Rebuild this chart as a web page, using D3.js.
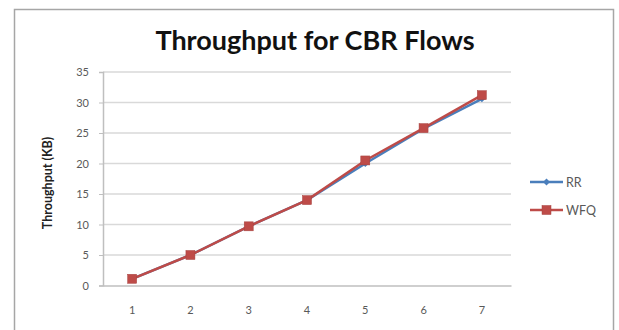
<!DOCTYPE html>
<html>
<head>
<meta charset="utf-8">
<script src="https://cdn.jsdelivr.net/npm/d3@7"></script>
<style>
  html, body { margin: 0; padding: 0; background: #fff; }
  svg { display: block; }
</style>
</head>
<body>
<svg id="chart" width="619" height="330"></svg>
<script>
// Chart data
const categories = ["1", "2", "3", "4", "5", "6", "7"];
const rrValues  = [1.1, 5.0, 9.7, 14.0, 20.0, 25.7, 30.6];
const wfqValues = [1.1, 5.0, 9.7, 14.0, 20.5, 25.8, 31.2];
const yTicks = [0, 5, 10, 15, 20, 25, 30, 35];
const seriesNames = ["RR", "WFQ"];

const series = [
  { name: seriesNames[0], values: rrValues,  color: "#4a7ebb", marker: "diamond" },
  { name: seriesNames[1], values: wfqValues, color: "#be4b48", marker: "square" }
];

const svg = d3.select("#chart");
const font = "Lato, 'Open Sans', sans-serif";

// Chart frame
svg.append("rect")
  .attr("x", 14.5).attr("y", 9.5)
  .attr("width", 599).attr("height", 330)
  .attr("fill", "#fff").attr("stroke", "#a6a6a6").attr("stroke-width", 1.5);

const plot = { left: 103, right: 511, top: 72, bottom: 285.5 };

const x = d3.scaleBand().domain(categories).range([plot.left, plot.right]);
const y = d3.scaleLinear().domain([0, 35]).range([plot.bottom, plot.top]);

// Horizontal gridlines
svg.append("g")
  .selectAll("line")
  .data(yTicks.filter(d => d > 0))
  .join("line")
  .attr("x1", plot.left).attr("x2", plot.right)
  .attr("y1", d => y(d)).attr("y2", d => y(d))
  .attr("stroke", "#d9d9d9").attr("stroke-width", 1.5);

// Y axis
const yAxis = svg.append("g")
  .attr("transform", `translate(${plot.left},0)`)
  .call(d3.axisLeft(y).tickValues(yTicks).tickSize(4).tickPadding(10));
yAxis.select(".domain").attr("stroke", "#bfbfbf").attr("stroke-width", 1.5);
yAxis.selectAll(".tick line").attr("stroke", "#bfbfbf");
yAxis.selectAll(".tick text")
  .attr("font-family", font).attr("font-size", 11).attr("fill", "#595959");

// X axis
const xAxis = svg.append("g")
  .attr("transform", `translate(0,${plot.bottom})`)
  .call(d3.axisBottom(x).tickSize(0).tickPadding(21));
xAxis.select(".domain").attr("stroke", "#bfbfbf").attr("stroke-width", 1.5);
xAxis.selectAll(".tick text")
  .attr("font-family", font).attr("font-size", 11).attr("fill", "#595959");

// Title
svg.append("text")
  .attr("x", 315).attr("y", 49.5)
  .attr("text-anchor", "middle")
  .attr("font-family", font).attr("font-weight", "bold").attr("font-size", 27)
  .attr("fill", "#111")
  .text("Throughput for CBR Flows");

// Y axis title
svg.append("text")
  .attr("transform", `translate(52,183) rotate(-90)`)
  .attr("text-anchor", "middle")
  .attr("font-family", font).attr("font-weight", "bold").attr("font-size", 12.5)
  .attr("fill", "#222")
  .text("Throughput (KB)");

const cx = (d, i) => x(categories[i]) + x.bandwidth() / 2;
const line = d3.line().x((d, i) => cx(d, i)).y(d => y(d));

function drawMarker(g, type, color, px, py) {
  if (type === "square") {
    g.append("rect")
      .attr("x", px - 4.5).attr("y", py - 4.5)
      .attr("width", 9).attr("height", 9)
      .attr("fill", color).attr("stroke", d3.color(color).darker(0.4)).attr("stroke-width", 0.5);
  } else {
    const s = 3.5;
    g.append("path")
      .attr("d", `M${px},${py - s}L${px + s},${py}L${px},${py + s}L${px - s},${py}Z`)
      .attr("fill", color);
  }
}

// Series lines and markers
series.forEach(s => {
  const g = svg.append("g");
  g.append("path")
    .datum(s.values)
    .attr("d", line)
    .attr("fill", "none")
    .attr("stroke", s.color).attr("stroke-width", 2.5);
  s.values.forEach((v, i) => drawMarker(g, s.marker, s.color, cx(v, i), y(v)));
});

// Legend
const legend = svg.append("g");
series.forEach((s, i) => {
  const ly = 182 + i * 28;
  legend.append("line")
    .attr("x1", 530).attr("x2", 563)
    .attr("y1", ly).attr("y2", ly)
    .attr("stroke", s.color).attr("stroke-width", 2.5);
  drawMarker(legend, s.marker, s.color, 546.5, ly);
  legend.append("text")
    .attr("x", 566).attr("y", ly + 4.5)
    .attr("font-family", font).attr("font-size", 12.5).attr("fill", "#595959")
    .text(s.name);
});
</script>
</body>
</html>
